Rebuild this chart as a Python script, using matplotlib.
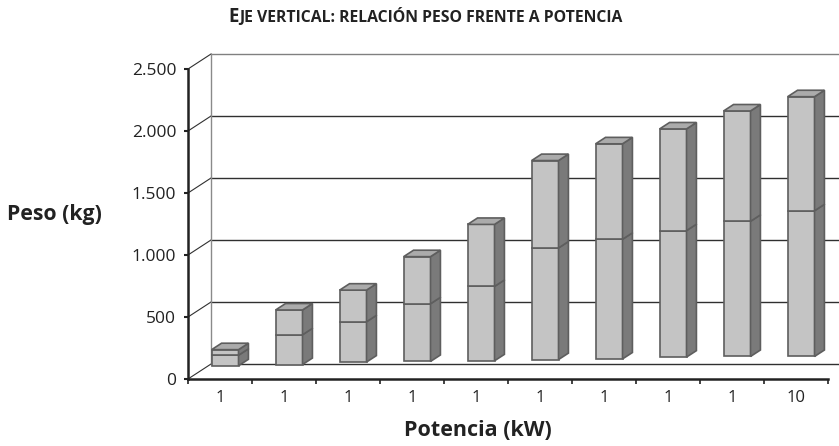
import numpy as np
import matplotlib.pyplot as plt
from matplotlib.patches import Polygon

plt.rcParams['font.family'] = ['Open Sans', 'DejaVu Sans']

# categories on the horizontal axis (kW)
potencia = ['1', '1', '1', '1', '1', '1', '1', '1', '1', '10']
# hidden offset under each column, lower block and upper block (kg)
base = [80, 90, 110, 115, 120, 130, 135, 150, 155, 155]
peso_bajo = [85, 240, 325, 465, 600, 900, 965, 1020, 1090, 1175]
peso_alto = [45, 200, 255, 380, 500, 705, 770, 820, 890, 920]

yticks = [0, 500, 1000, 1500, 2000, 2500]
ytick_labels = ['0', '500', '1.000', '1.500', '2.000', '2.500']

# fake 3d settings (oblique projection, in data units)
depth_x = 0.36      # category units
depth_y = 121       # kg
bar_front = 0.22    # where the column front sits inside the depth
bar_depth = 0.43
bar_width = 0.42

col_front = '#c4c4c4'
col_side = '#7a7a7a'
col_top = '#ababab'
col_edge = '#5e5e5e'
txt = '#222222'

W, H = 839, 446
fig = plt.figure(figsize=(W / 100, H / 100), dpi=100)
# front plane: x=0 at 188px, 64px per category; y=0 at 379px, 0.124 px/kg
px_cat = 64.0
px_kg = 0.124
left_px, bottom_px, top_px = 188, H - 379, H - 40
ax = fig.add_axes([left_px / W, bottom_px / H, 1 - left_px / W, (top_px - bottom_px) / H])
ax.set_xlim(0, (W - left_px) / px_cat)
ax.set_ylim(0, (top_px - bottom_px) / px_kg)
ax.patch.set_visible(False)

n = len(potencia)

# back wall, gridlines and the little diagonals joining the front axis
x_end = ax.get_xlim()[1] + 1
for v in yticks:
    c = '#808080' if v == yticks[-1] else '#303030'
    ax.plot([depth_x, x_end], [v + depth_y, v + depth_y], color=c, lw=1.0, zorder=1)
    ax.plot([0, depth_x], [v, v + depth_y], color='#303030', lw=0.8, zorder=1, clip_on=False)
ax.plot([depth_x, depth_x], [depth_y, yticks[-1] + depth_y], color='#8a8a8a', lw=1.0, zorder=1)

# columns
dxb = bar_depth * depth_x
dyb = bar_depth * depth_y
shift_x = bar_front * depth_x
shift_y = bar_front * depth_y
xc = np.arange(n) + 0.5 + shift_x
b0 = np.array(base) + shift_y
b1 = b0 + np.array(peso_bajo)
b2 = b1 + np.array(peso_alto)

for bot, hgt in [(b0, b1 - b0), (b1, b2 - b1)]:
    ax.bar(xc, hgt, bottom=bot, width=bar_width, color=col_front,
           edgecolor=col_edge, linewidth=1.2, zorder=3)

for i in range(n):
    xl = xc[i] - bar_width / 2
    xr = xc[i] + bar_width / 2
    for lo, hi in [(b0[i], b1[i]), (b1[i], b2[i])]:
        side = [(xr, lo), (xr + dxb, lo + dyb), (xr + dxb, hi + dyb), (xr, hi)]
        ax.add_patch(Polygon(side, closed=True, facecolor=col_side,
                             edgecolor=col_edge, lw=1.2, zorder=3))
    t = b2[i]
    top = [(xl, t), (xl + dxb, t + dyb), (xr + dxb, t + dyb), (xr, t)]
    ax.add_patch(Polygon(top, closed=True, facecolor=col_top,
                         edgecolor=col_edge, lw=1.2, zorder=3))

# axes
for s in ['top', 'right']:
    ax.spines[s].set_visible(False)
for s in ['left', 'bottom']:
    ax.spines[s].set_linewidth(1.8)
    ax.spines[s].set_color(txt)
ax.spines['left'].set_bounds(0, 2500)
ax.spines['bottom'].set_bounds(0, n)

ax.set_yticks(yticks)
ax.set_yticklabels(ytick_labels)
ax.tick_params(axis='y', length=3, width=1.5, color=txt, pad=5.5,
               labelsize=12.5, labelcolor=txt)

ax.set_xticks(np.arange(n + 1))
ax.set_xticklabels([])
ax.set_xticks(np.arange(n) + 0.5, minor=True)
ax.set_xticklabels(potencia, minor=True)
ax.tick_params(axis='x', which='major', length=3.5, width=1.2, color=txt)
ax.tick_params(axis='x', which='minor', length=0, pad=8, labelsize=12, labelcolor=txt)

# labels
fig.text(7 / W, 1 - 214 / H, 'Peso (kg)', fontsize=15.3, weight='bold',
         color=txt, ha='left', va='center')
fig.text(478 / W, 1 - 430 / H, 'Potencia (kW)', fontsize=15.5, weight='bold',
         color=txt, ha='center', va='center')

# small caps title
t1 = ax.annotate('E', xy=(228, H - 22), xycoords='figure pixels', fontsize=13.5,
                 weight='bold', color=txt, ha='left', va='baseline')
ax.annotate('JE VERTICAL: RELACIÓN PESO FRENTE A POTENCIA', xy=(1, 0), xycoords=t1,
            xytext=(0.5, 0.8), textcoords='offset points', fontsize=11.3,
            weight='bold', color=txt, ha='left', va='bottom')

fig.savefig('out.png', dpi=100)
